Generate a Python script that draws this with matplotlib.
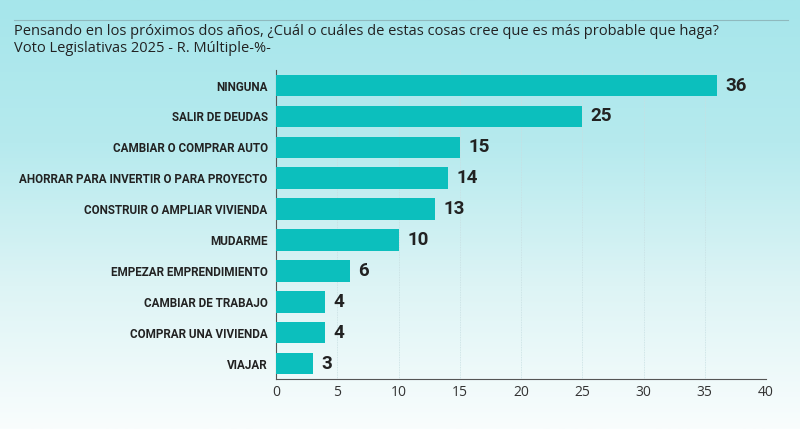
import numpy as np
import matplotlib
matplotlib.use("Agg")
import matplotlib.pyplot as plt
from matplotlib.colors import LinearSegmentedColormap

categories = ["NINGUNA", "SALIR DE DEUDAS", "CAMBIAR O COMPRAR AUTO",
              "AHORRAR PARA INVERTIR O PARA PROYECTO", "CONSTRUIR O AMPLIAR VIVIENDA",
              "MUDARME", "EMPEZAR EMPRENDIMIENTO", "CAMBIAR DE TRABAJO",
              "COMPRAR UNA VIVIENDA", "VIAJAR"]
values = [36, 25, 15, 14, 13, 10, 6, 4, 4, 3]
xticks = [0, 5, 10, 15, 20, 25, 30, 35, 40]

title = ("Pensando en los próximos dos años, ¿Cuál o cuáles de estas cosas cree que es más probable que haga?\n"
         "Voto Legislativas 2025 - R. Múltiple-%-")

BAR = "#0cbfbd"
TXT = "#222222"

fig = plt.figure(figsize=(8, 4.29), dpi=100)

# background gradient, cyan at the top fading to white
bg = fig.add_axes([0, 0, 1, 1], zorder=-10)
grad = np.linspace(0, 1, 256).reshape(-1, 1)
cmap = LinearSegmentedColormap.from_list("bg", ["#a6e6eb", "#b6eaee", "#ddf4f5", "#f9fdfd"])
bg.imshow(grad, aspect="auto", cmap=cmap, extent=[0, 1, 0, 1])
bg.plot([0.018, 0.985], [0.953, 0.953], color="#8fb9be", lw=0.8)
bg.set_xlim(0, 1)
bg.set_ylim(0, 1)
bg.axis("off")

fig.text(0.018, 0.945, title, ha="left", va="top", fontsize=10.5,
         family="Open Sans", color=TXT, linespacing=1.25)

ax = fig.add_axes([0.345, 0.1166, 0.6125, 0.72])
ax.patch.set_alpha(0)
y = np.arange(len(categories))
ax.barh(y, values, height=0.7, color=BAR, zorder=3)
for yi, v in zip(y, values):
    ax.text(v + 0.7, yi, str(v), va="center", ha="left", fontsize=13.5,
            fontweight="bold", family="Roboto", color=TXT)

ax.set_ylim(len(categories) - 0.5, -0.5)
ax.set_xlim(0, 40)
ax.set_yticks(y)
ax.set_yticklabels(categories, fontsize=8.4, fontweight="bold", family="Roboto", color=TXT)
ax.set_xticks(xticks)
ax.set_xticklabels([str(t) for t in xticks], fontsize=10, family="Open Sans", color="#333333")
ax.tick_params(axis="y", length=0, pad=6)
ax.tick_params(axis="x", length=0, pad=4)
ax.grid(axis="x", color="#c8dfe2", lw=0.6, linestyle=(0, (1, 1)), zorder=0)
for s in ["top", "right"]:
    ax.spines[s].set_visible(False)
ax.spines["left"].set_color("#555555")
ax.spines["bottom"].set_color("#555555")
ax.spines["left"].set_linewidth(0.8)
ax.spines["bottom"].set_linewidth(0.8)

fig.savefig("out.png", dpi=100)
